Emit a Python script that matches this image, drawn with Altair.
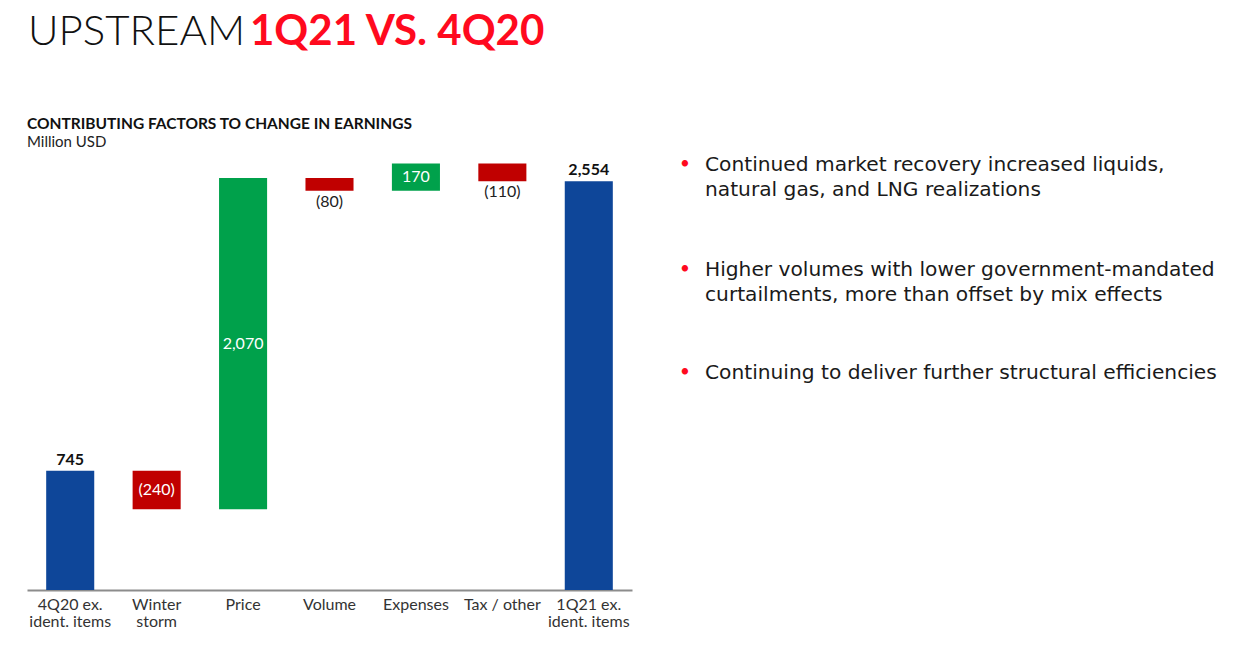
import altair as alt
import pandas as pd

# ---- data ----
categories = ["4Q20 ex.\nident. items", "Winter\nstorm", "Price", "Volume",
              "Expenses", "Tax / other", "1Q21 ex.\nident. items"]
values = [745, -240, 2070, -80, 170, -110, 2554]
kinds = ["total", "delta", "delta", "delta", "delta", "delta", "total"]
labels = ["745", "(240)", "2,070", "(80)", "170", "(110)", "2,554"]
label_place = ["above", "inside", "inside", "below", "inside", "below", "above"]

bullets = [
    ["Continued market recovery increased liquids,", "natural gas, and LNG realizations"],
    ["Higher volumes with lower government-mandated", "curtailments, more than offset by mix effects"],
    ["Continuing to deliver further structural efficiencies"],
]

rows = []
running = 0
for c, v, k, lab, pl in zip(categories, values, kinds, labels, label_place):
    if k == "total":
        start, end = 0, v
        running = v
        ck = "total"
    else:
        start, end = running, running + v
        running = end
        ck = "increase" if v > 0 else "decrease"
    rows.append(dict(cat=c, start=start, end=end, top=max(start, end),
                     low=min(start, end), mid=(start + end) / 2,
                     label=lab, place=pl, ck=ck))
df = pd.DataFrame(rows)

W, H = 605, 432
PAD_L, PAD_T = 27, 158
FONT = "Lato"

x_enc = alt.X("cat:N", sort=categories,
              scale=alt.Scale(paddingInner=0.444, paddingOuter=0.222),
              axis=alt.Axis(title=None, labels=False, ticks=False,
                            domainColor="#8c8c8c", domainWidth=2))
y_scale = alt.Scale(domain=[0, 2700], nice=False, zero=True)

base = alt.Chart(df)

bars = base.mark_bar().encode(
    x=x_enc,
    y=alt.Y("start:Q", scale=y_scale, axis=None),
    y2="end:Q",
    color=alt.Color("ck:N", legend=None,
                    scale=alt.Scale(domain=["total", "increase", "decrease"],
                                    range=["#0E4699", "#00A14B", "#C00000"])),
)

above = base.transform_filter("datum.place == 'above'").mark_text(
    baseline="bottom", dy=-3, font=FONT, fontSize=16, fontWeight="bold", color="#111111"
).encode(x=alt.X("cat:N", sort=categories), y=alt.Y("top:Q", scale=y_scale), text="label:N")

inside = base.transform_filter("datum.place == 'inside'").mark_text(
    baseline="middle", font=FONT, fontSize=16, color="white"
).encode(x=alt.X("cat:N", sort=categories), y=alt.Y("mid:Q", scale=y_scale), text="label:N")

below = base.transform_filter("datum.place == 'below'").mark_text(
    baseline="top", dy=3, font=FONT, fontSize=16, color="#222222"
).encode(x=alt.X("cat:N", sort=categories), y=alt.Y("low:Q", scale=y_scale), text="label:N")

xlabels = base.mark_text(
    baseline="top", lineBreak="\n", lineHeight=17, font=FONT, fontSize=16, color="#333333"
).encode(x=alt.X("cat:N", sort=categories), y=alt.value(H + 7), text="cat:N")

def txt(s, x, y, font=FONT, **kw):
    return alt.Chart(pd.DataFrame({"t": [s]})).mark_text(
        align="left", baseline="alphabetic", font=font, **kw
    ).encode(x=alt.value(x), y=alt.value(y), text="t:N")

title1 = txt("UPSTREAM", 1, -113, fontSize=42, fontWeight=300, color="#111111")
title2 = txt("1Q21 VS. 4Q20", 223, -113, fontSize=42, fontWeight="bold", color="#FF0A1E")
sub1 = txt("CONTRIBUTING FACTORS TO CHANGE IN EARNINGS", 0, -29, fontSize=15.5,
           fontWeight="bold", color="#111111")
sub2 = txt("Million USD", 0, -11, fontSize=15, color="#222222")

bullet_layers = []
bullet_y = [13, 118, 221]
for lines, yy in zip(bullets, bullet_y):
    bullet_layers.append(txt("•", 653, yy - 2, fontSize=17, color="#FF0A1E"))
    for i, line in enumerate(lines):
        bullet_layers.append(txt(line, 678, yy + 25 * i, font="DejaVu Sans",
                                 fontSize=20.2, color="#1a1a1a"))

chart = alt.layer(bars, above, inside, below, xlabels, title1, title2, sub1, sub2,
                  *bullet_layers).properties(
    width=W, height=H,
    autosize=alt.AutoSizeParams(type="none"),
    padding={"left": PAD_L, "top": PAD_T, "right": 1255 - PAD_L - W, "bottom": 48},
).configure_view(stroke=None)

chart.save("out.html", embed_options={"renderer": "svg", "actions": False})
